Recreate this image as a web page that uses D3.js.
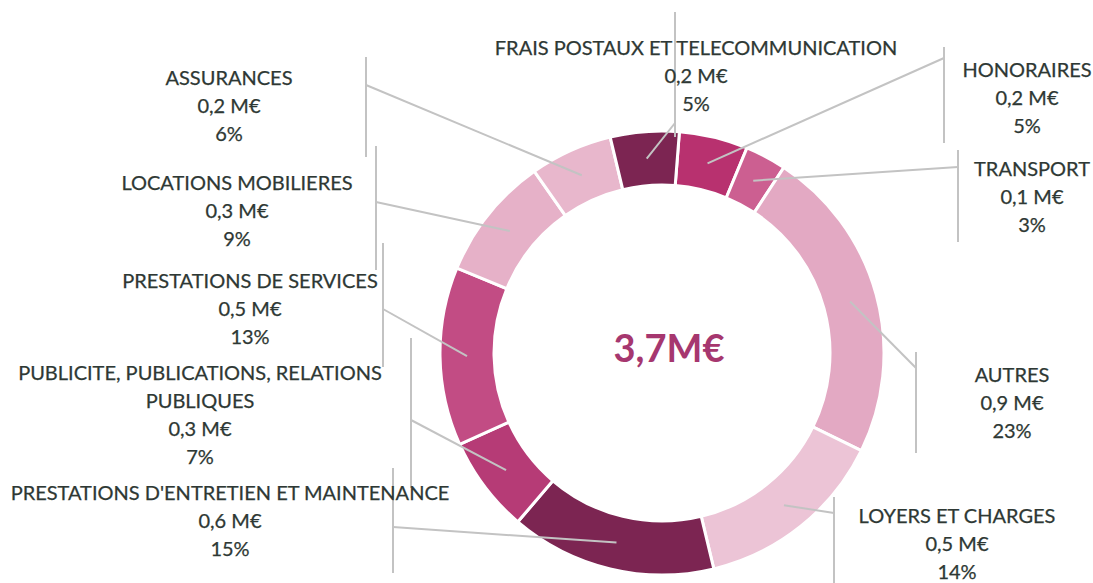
<!DOCTYPE html>
<html>
<head>
<meta charset="utf-8">
<script src="https://cdn.jsdelivr.net/npm/d3@7"></script>
<style>
  body { margin: 0; background: #fff; }
  text { font-family: Lato, "Open Sans", sans-serif; }
</style>
</head>
<body>
<svg></svg>
<script>
const categories = [
  "HONORAIRES",
  "TRANSPORT",
  "AUTRES",
  "LOYERS ET CHARGES",
  "PRESTATIONS D'ENTRETIEN ET MAINTENANCE",
  "PUBLICITE, PUBLICATIONS, RELATIONS PUBLIQUES",
  "PRESTATIONS DE SERVICES",
  "LOCATIONS MOBILIERES",
  "ASSURANCES",
  "FRAIS POSTAUX ET TELECOMMUNICATION"
];
const amounts = [0.2, 0.1, 0.9, 0.5, 0.6, 0.3, 0.5, 0.3, 0.2, 0.2];
const shares = [5, 3, 23, 14, 15, 7, 13, 9, 6, 5];
const total = 3.7;

const colors = [
  "#b8316f", "#cc5f91", "#e3a9c3", "#ecc4d6", "#7c2552",
  "#b63b76", "#c24c84", "#e6b1c8", "#e8b7cc", "#7c2552"
];

// where each label sits, and its leader bar
const labelLayout = [
  { x: 1027, y: 77, barX: 944, barY0: 47, barY1: 143, attachY: 58 },
  { x: 1032, y: 176, barX: 958, barY0: 150, barY1: 242, attachY: 167 },
  { x: 1012, y: 382, barX: 916, barY0: 352, barY1: 453, attachY: 368 },
  { x: 957, y: 523, barX: 834, barY0: 497, barY1: 590, attachY: 513 },
  { x: 230, y: 500, barX: 393, barY0: 468, barY1: 573, attachY: 527 },
  { x: 200, y: 380, barX: 411, barY0: 338, barY1: 488, attachY: 420 },
  { x: 250, y: 288, barX: 383, barY0: 243, barY1: 367, attachY: 309 },
  { x: 237, y: 190, barX: 376, barY0: 146, barY1: 270, attachY: 202 },
  { x: 229, y: 85, barX: 366, barY0: 57, barY1: 157, attachY: 85 },
  { x: 696, y: 55, barX: 675, barY0: 12, barY1: 137, attachY: 123 }
];

const sizes = {
  width: 1093,
  height: 583,
  cx: 662,
  cy: 353,
  outer: 222,
  inner: 168,
  lineHeight: 28
};

const svg = d3.select("svg")
  .attr("width", sizes.width)
  .attr("height", sizes.height);

const fr = d3.formatLocale({ decimal: ",", thousands: " ", grouping: [3], currency: ["", "€"] });
const fmt = fr.format(".1f");

const pie = d3.pie()
  .sort(null)
  .value(d => d)
  .startAngle(4.5 * Math.PI / 180)
  .endAngle(4.5 * Math.PI / 180 + 2 * Math.PI);

const arc = d3.arc().innerRadius(sizes.inner).outerRadius(sizes.outer);
const arcs = pie(shares);

const chart = svg.append("g")
  .attr("transform", `translate(${sizes.cx},${sizes.cy})`);

const leaders = svg.append("g")
  .attr("stroke", "#c3c3c3")
  .attr("stroke-width", 2)
  .attr("fill", "none");

arcs.forEach((a, i) => {
  const l = labelLayout[i];
  const c = arc.centroid(a);
  leaders.append("line")
    .attr("x1", l.barX).attr("x2", l.barX)
    .attr("y1", l.barY0).attr("y2", l.barY1);
  leaders.append("line")
    .attr("x1", l.barX).attr("y1", l.attachY)
    .attr("x2", sizes.cx + c[0]).attr("y2", sizes.cy + c[1]);
});

chart.selectAll("path")
  .data(arcs)
  .enter()
  .append("path")
  .attr("d", arc)
  .attr("fill", (d, i) => colors[i])
  .attr("stroke", "#fff")
  .attr("stroke-width", 3);

// leader ends sit on top of the slices
leaders.raise();

function wrap(name, max) {
  if (name.length <= max) return [name];
  const cut = name.lastIndexOf(" ", max);
  return [name.slice(0, cut), name.slice(cut + 1)];
}

categories.forEach((name, i) => {
  const l = labelLayout[i];
  const lines = wrap(name, 38).concat([fmt(amounts[i]) + " M€", shares[i] + "%"]);
  const t = svg.append("text")
    .attr("text-anchor", "middle")
    .attr("fill", "#2e3834")
    .attr("stroke", "#2e3834")
    .attr("stroke-width", 0.25)
    .style("font-size", "20px");
  lines.forEach((s, k) => {
    t.append("tspan")
      .attr("x", l.x)
      .attr("y", l.y + k * sizes.lineHeight)
      .text(s);
  });
});

svg.append("text")
  .attr("x", 669)
  .attr("y", 362)
  .attr("text-anchor", "middle")
  .attr("fill", "#a6376f")
  .style("font-size", "38px")
  .style("font-weight", "bold")
  .text(fr.format(".1f")(total) + "M€");
</script>
</body>
</html>
